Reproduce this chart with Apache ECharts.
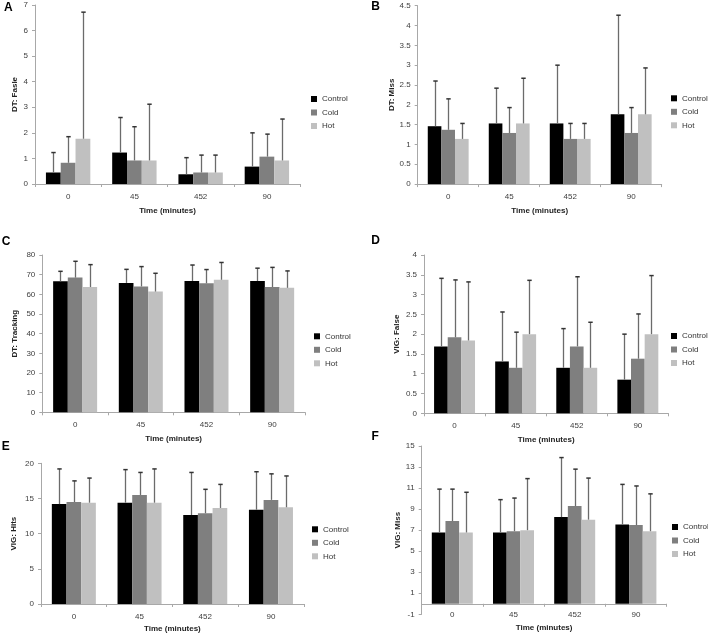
<!DOCTYPE html>
<html><head><meta charset="utf-8">
<script src="https://cdn.jsdelivr.net/npm/echarts@6/dist/echarts.min.js"></script>
<style>html,body{margin:0;padding:0;background:#fff}#c{width:708px;height:635px}</style>
</head><body><div id="c"></div>
<script>
// ---------- DATA ----------
const categories = ['0', '45', '452', '90'];
const groupNames = ['Control', 'Cold', 'Hot'];
const xTitle = 'Time (minutes)';

// Panel A: DT: Fasle
const A_control = [0.45, 1.23, 0.38, 0.68];
const A_cold    = [0.83, 0.92, 0.45, 1.07];
const A_hot     = [1.77, 0.92, 0.45, 0.92];
const A_controlSD = [0.78, 1.37, 0.65, 1.32];
const A_coldSD    = [1.02, 1.32, 0.68, 0.88];
const A_hotSD     = [4.95, 2.20, 0.68, 1.62];

// Panel B: DT: Miss
const B_control = [1.46, 1.53, 1.53, 1.76];
const B_cold    = [1.37, 1.29, 1.14, 1.29];
const B_hot     = [1.14, 1.53, 1.14, 1.76];
const B_controlSD = [1.14, 0.89, 1.47, 2.50];
const B_coldSD    = [0.78, 0.64, 0.39, 0.64];
const B_hotSD     = [0.39, 1.14, 0.39, 1.17];

// Panel C: DT: Tracking
const C_control = [66.6, 65.8, 66.8, 66.8];
const C_cold    = [68.5, 64.0, 65.6, 63.7];
const C_hot     = [63.7, 61.4, 67.4, 63.3];
const C_controlSD = [5.1, 6.9, 8.1, 6.5];
const C_coldSD    = [8.3, 10.1, 7.0, 10.0];
const C_hotSD     = [11.4, 9.3, 8.8, 8.6];

// Panel D: VIG: False
const D_control = [1.69, 1.31, 1.15, 0.85];
const D_cold    = [1.92, 1.15, 1.69, 1.38];
const D_hot     = [1.84, 2.00, 1.15, 2.00];
const D_controlSD = [1.72, 1.25, 0.99, 1.15];
const D_coldSD    = [1.45, 0.90, 1.76, 1.13];
const D_hotSD     = [1.48, 1.36, 1.15, 1.48];

// Panel E: VIG: Hits
const E_control = [14.2, 14.4, 12.65, 13.4];
const E_cold    = [14.5, 15.5, 12.9, 14.8];
const E_hot     = [14.4, 14.4, 13.65, 13.75];
const E_controlSD = [5.0, 4.7, 6.05, 5.4];
const E_coldSD    = [3.0, 3.2, 3.4, 3.7];
const E_hotSD     = [3.5, 4.8, 3.35, 4.45];

// Panel F: VIG: Miss
const F_control = [6.78, 6.78, 8.24, 7.54];
const F_cold    = [7.86, 6.90, 9.29, 7.48];
const F_hot     = [6.78, 7.00, 8.00, 6.90];
const F_controlSD = [4.12, 3.12, 5.66, 3.81];
const F_coldSD    = [3.04, 3.15, 3.51, 3.72];
const F_hotSD     = [3.82, 4.90, 3.95, 3.55];

// Axis tick settings (min, max, interval) and axis names
const yNames = ['DT: Fasle', 'DT: Miss', 'DT: Tracking', 'VIG: False', 'VIG: Hits', 'VIG: Miss'];
const yMins = [0, 0, 0, 0, 0, -1];
const yMaxs = [7, 4.5, 80, 4, 20, 15];
const yIntervals = [1, 0.5, 10, 0.5, 5, 2];
const panelLetters = ['A', 'B', 'C', 'D', 'E', 'F'];

const panelMeans = [
  [A_control, A_cold, A_hot], [B_control, B_cold, B_hot], [C_control, C_cold, C_hot],
  [D_control, D_cold, D_hot], [E_control, E_cold, E_hot], [F_control, F_cold, F_hot]
];
const panelSDs = [
  [A_controlSD, A_coldSD, A_hotSD], [B_controlSD, B_coldSD, B_hotSD], [C_controlSD, C_coldSD, C_hotSD],
  [D_controlSD, D_coldSD, D_hotSD], [E_controlSD, E_coldSD, E_hotSD], [F_controlSD, F_coldSD, F_hotSD]
];

// ---------- LAYOUT / STYLE ----------
const FONT = 'Liberation Sans, Arial, sans-serif';
const barColors = ['#000000', '#7f7f7f', '#c0c0c0'];
const catGap = 0.33;
const layout = [
  { grid: {left: 35,    top: 5,     width: 265,   height: 179},   yGap: 16.5, xGap: 22.5, leg: {left: 311, top: 93.5},  letter: [8.3, 7.5] },
  { grid: {left: 417.7, top: 5.7,   width: 244,   height: 178.4}, yGap: 22,   xGap: 22.5, leg: {left: 671, top: 92.8},  letter: [375.7, 6.7] },
  { grid: {left: 42.3,  top: 255,   width: 262.7, height: 157.3}, yGap: 23.8, xGap: 22.5, leg: {left: 314, top: 330.8}, letter: [6.2, 241.7] },
  { grid: {left: 424,   top: 255,   width: 244.4, height: 158.3}, yGap: 23.2, xGap: 22.5, leg: {left: 671, top: 330.5}, letter: [375.7, 240.2] },
  { grid: {left: 41,    top: 463.3, width: 262.8, height: 140.7}, yGap: 23.2, xGap: 20.5, leg: {left: 312, top: 523.8}, letter: [5.8, 446.5] },
  { grid: {left: 421.7, top: 446,   width: 244.8, height: 168.3}, yGap: 17.5, xGap: 9.5,  leg: {left: 672, top: 521.5}, letter: [375.2, 436.5] }
];

const axisGray = '#a8a8a8';
const labelStyle = {fontSize: 8, color: '#404040', fontFamily: FONT};
const nameStyle = {fontSize: 8, color: '#222', fontWeight: 'bold', fontFamily: FONT};

const grids = [], xAxes = [], yAxes = [], series = [], legends = [], graphics = [];

layout.forEach((L, p) => {
  grids.push(Object.assign({containLabel: false}, L.grid));
  const xIndex = xAxes.length;
  const isF = yMins[p] < 0;
  // main category axis (line + ticks)
  xAxes.push({
    type: 'category', gridIndex: p, data: categories, position: 'bottom',
    axisLine: {show: true, onZero: true, lineStyle: {color: axisGray, width: 1}},
    axisTick: {show: true, length: 3, interval: 0, lineStyle: {color: axisGray}},
    axisLabel: {show: !isF, margin: 8.5, interval: 0, ...labelStyle},
    name: isF ? '' : xTitle, nameLocation: 'middle', nameGap: L.xGap, nameTextStyle: nameStyle,
    splitLine: {show: false}
  });
  if (isF) {
    // labels placed at the bottom of the plot (low position)
    xAxes.push({
      type: 'category', gridIndex: p, data: categories, position: 'bottom',
      axisLine: {show: false, onZero: false}, axisTick: {show: false},
      axisLabel: {show: true, margin: 0, verticalAlign: 'middle', interval: 0, ...labelStyle},
      name: xTitle, nameLocation: 'middle', nameGap: L.xGap, nameTextStyle: nameStyle,
      splitLine: {show: false}
    });
  }
  yAxes.push({
    type: 'value', gridIndex: p, min: yMins[p], max: yMaxs[p], interval: yIntervals[p],
    axisLine: {show: true, lineStyle: {color: axisGray, width: 1}},
    axisTick: {show: true, length: 3, lineStyle: {color: axisGray}},
    axisLabel: {margin: 7, ...labelStyle},
    splitLine: {show: false},
    name: yNames[p], nameLocation: 'middle', nameGap: L.yGap, nameRotate: 90, nameTextStyle: nameStyle
  });
  const errData = [];
  groupNames.forEach((g, s) => {
    series.push({
      type: 'bar', name: g, xAxisIndex: xIndex, yAxisIndex: p,
      data: panelMeans[p][s], barGap: '0%', barCategoryGap: (catGap * 100) + '%',
      itemStyle: {color: barColors[s]}, silent: true, animation: false
    });
    panelMeans[p][s].forEach((m, i) => {
      errData.push([i, m + panelSDs[p][s][i], m, s]);
    });
  });
  series.push({
    type: 'custom', name: 'err' + p, xAxisIndex: xIndex, yAxisIndex: p, z: 5,
    encode: {x: 0, y: 1}, data: errData, silent: true, animation: false,
    renderItem: function (params, api) {
      const ci = api.value(0);
      const base = api.coord([ci, api.value(2)]);
      const top = api.coord([ci, api.value(1)]);
      const band = api.size([1, 0])[0];
      const bw = band * (1 - catGap) / 3;
      const x = Math.round(base[0] + (api.value(3) - 1) * bw) + 0.5;
      const st = {stroke: '#6b6b6b', lineWidth: 1.3};
      return {
        type: 'group', children: [
          {type: 'line', shape: {x1: x, y1: base[1], x2: x, y2: top[1]}, style: st},
          {type: 'line', shape: {x1: x - 2.2, y1: top[1], x2: x + 2.2, y2: top[1]}, style: {stroke: '#333', lineWidth: 1.5}}
        ]
      };
    }
  });
  legends.push({
    orient: 'vertical', left: L.leg.left, top: L.leg.top, data: groupNames,
    icon: 'rect', itemWidth: 6, itemHeight: 6, itemGap: 2.5, padding: 0,
    selectedMode: false,
    textStyle: {fontSize: 8, color: '#333', fontFamily: FONT, lineHeight: 11}
  });
  graphics.push({
    type: 'text', x: L.letter[0], y: L.letter[1],
    style: {text: panelLetters[p], fontSize: 12, fontWeight: 'bold', fill: '#000', fontFamily: FONT,
            align: 'center', verticalAlign: 'middle'}
  });
});

const chart = echarts.init(document.getElementById('c'), null, {renderer: 'canvas'});
chart.setOption({
  animation: false,
  backgroundColor: '#fff',
  grid: grids, xAxis: xAxes, yAxis: yAxes, series: series, legend: legends, graphic: graphics,
  tooltip: {show: false}
});
</script></body></html>
